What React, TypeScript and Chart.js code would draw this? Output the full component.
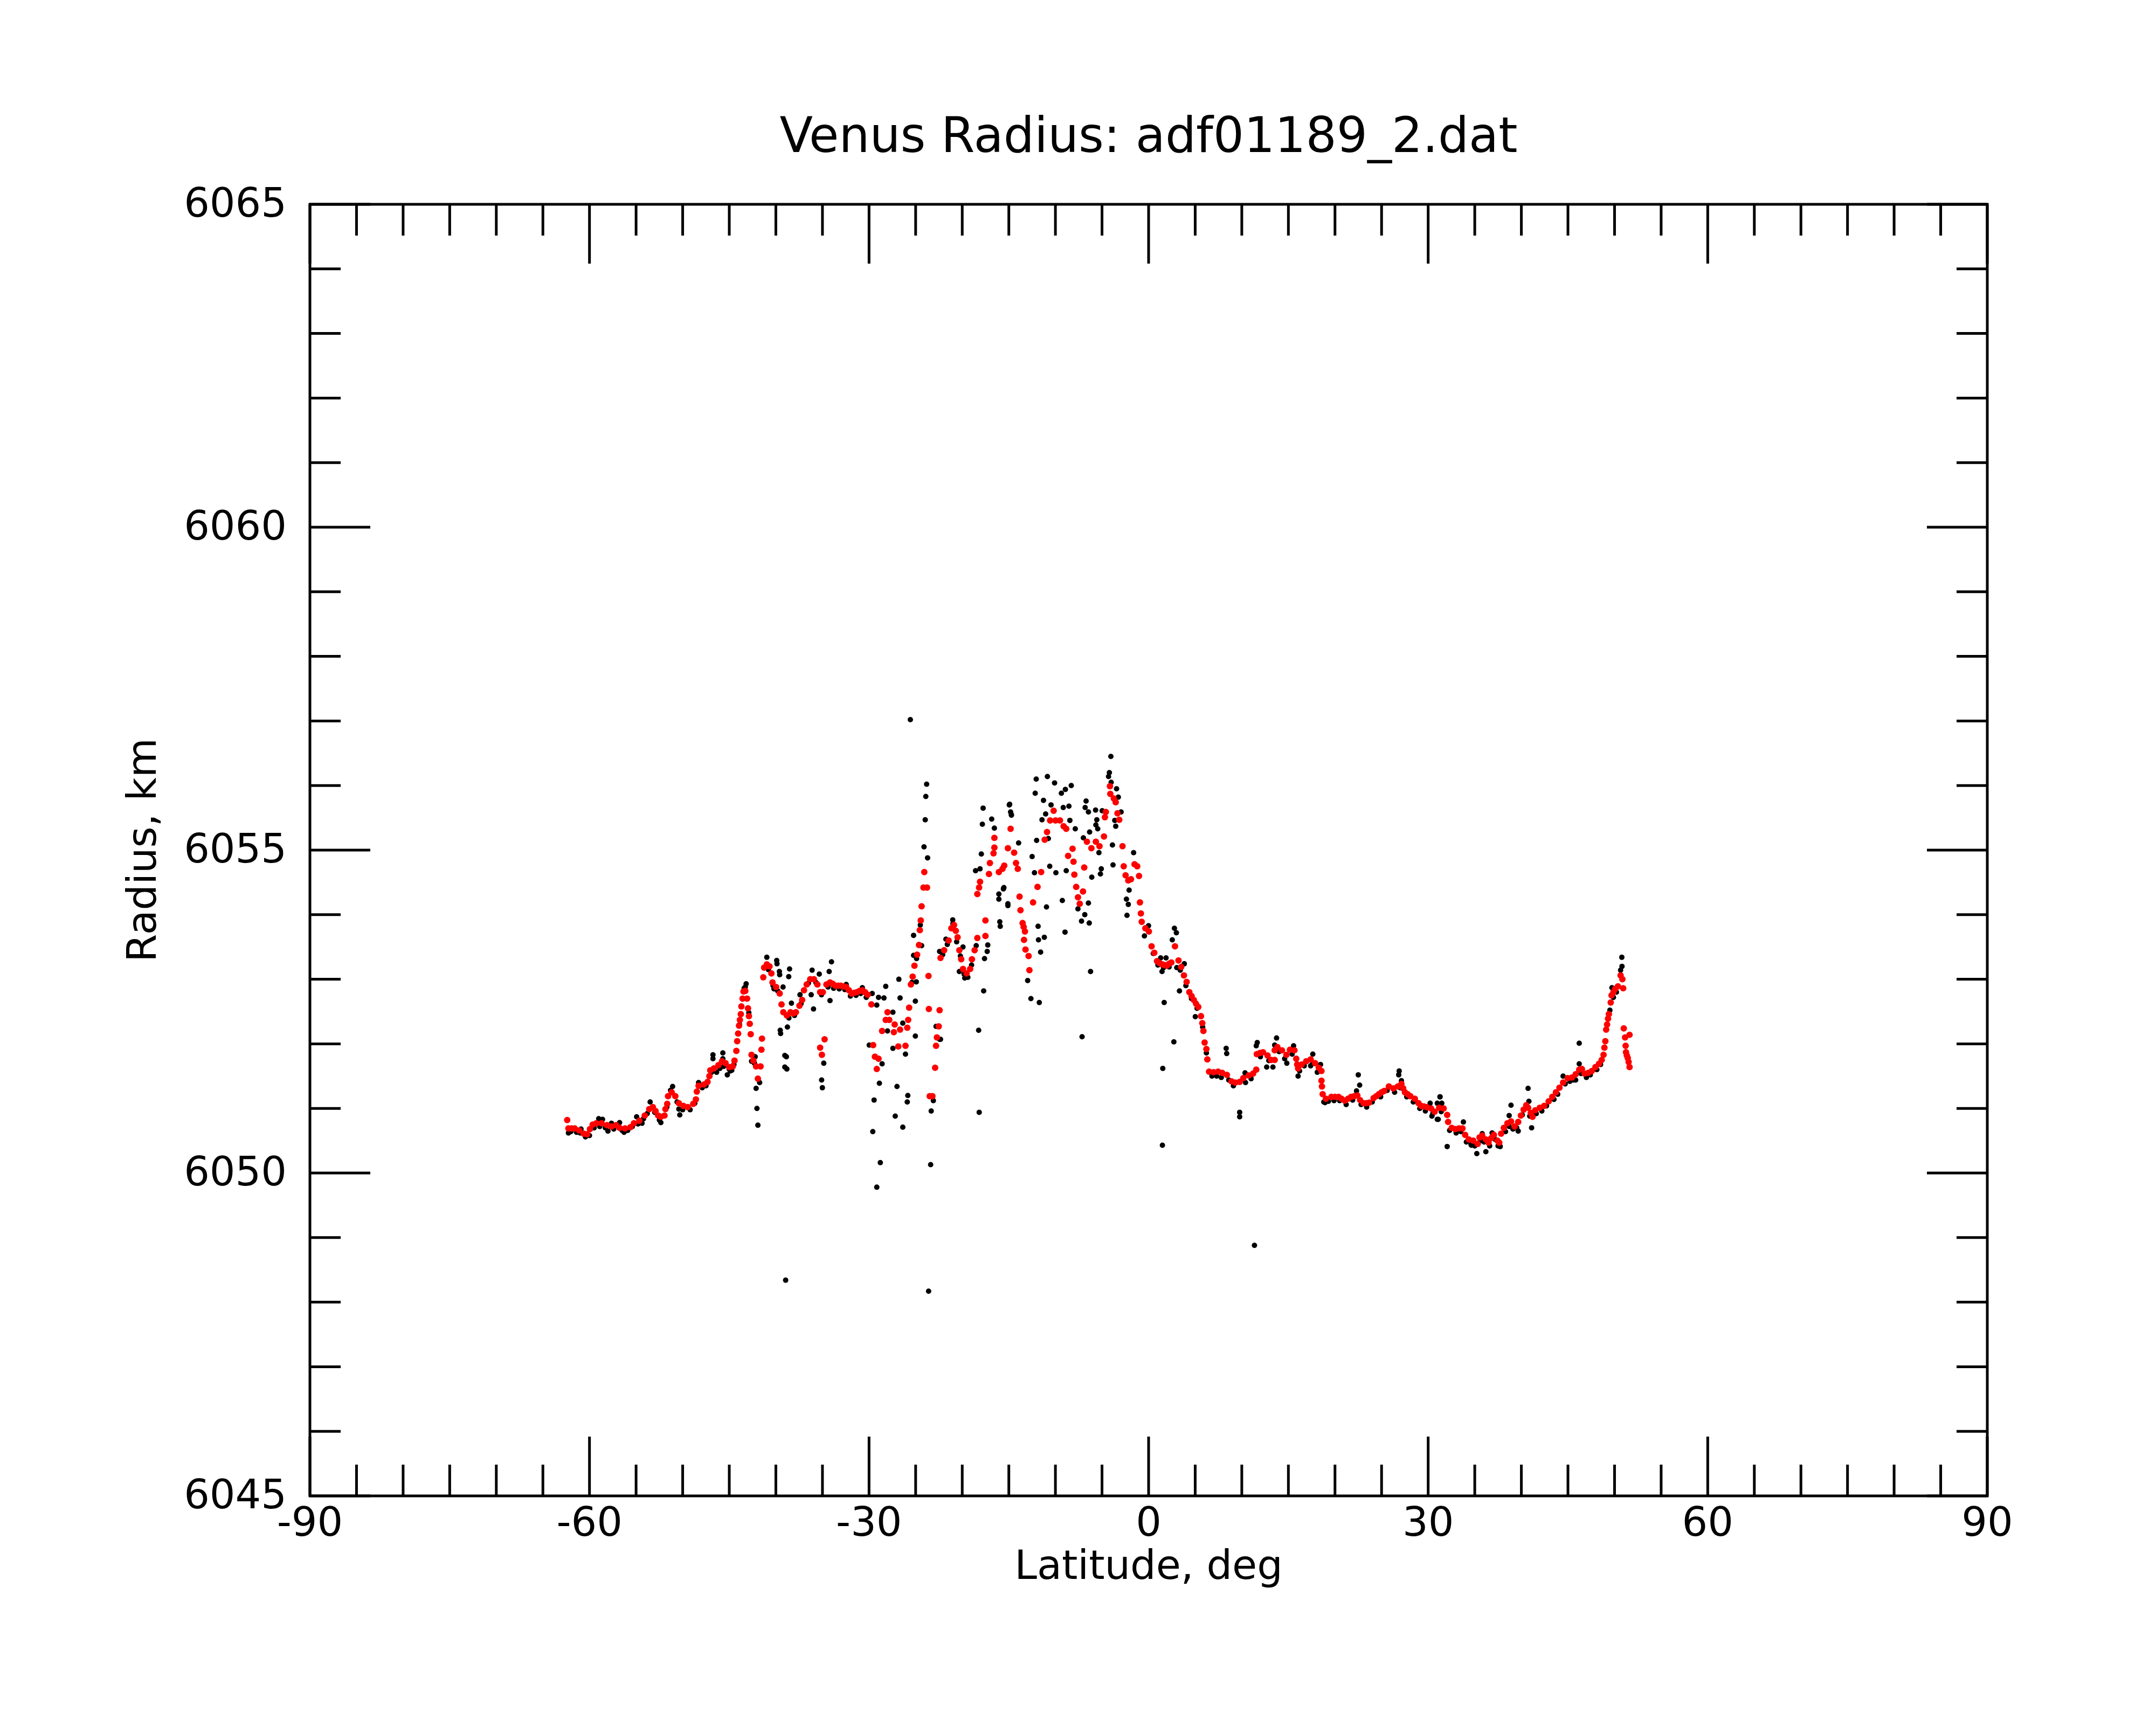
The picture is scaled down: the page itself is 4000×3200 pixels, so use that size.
import { useEffect, useRef } from "react";
import { Chart, registerables } from "chart.js";

Chart.register(...registerables);

const TITLE = "Venus Radius: adf01189_2.dat";
const X_LABEL = "Latitude, deg";
const Y_LABEL = "Radius, km";
const X_TICKS = [-90, -60, -30, 0, 30, 60, 90];
const Y_TICKS = [6045, 6050, 6055, 6060, 6065];
const X_MINOR_STEP = 5;
const Y_MINOR_STEP = 1;

// Smoothed radius (red), [latitude, radius]
const smoothed: [number, number][] = [
  [-62.39, 6050.82], [-62.26, 6050.69], [-61.92, 6050.69], [-61.59, 6050.69], [-61.1, 6050.66], [-60.62, 6050.61],
  [-60.24, 6050.6], [-59.95, 6050.68], [-59.66, 6050.75], [-59.27, 6050.77], [-58.7, 6050.77], [-58.12, 6050.74],
  [-57.64, 6050.72], [-57.15, 6050.74], [-56.77, 6050.7], [-56.19, 6050.69], [-55.61, 6050.71], [-55.23, 6050.77],
  [-54.65, 6050.81], [-54.07, 6050.89], [-53.59, 6050.99], [-53.2, 6051.02], [-52.91, 6050.96], [-52.63, 6050.89],
  [-52.34, 6050.87], [-51.95, 6050.89], [-51.85, 6050.99], [-51.66, 6051.07], [-51.57, 6051.19], [-51.18, 6051.25],
  [-50.79, 6051.19], [-50.41, 6051.08], [-49.93, 6051.04], [-49.45, 6051.02], [-48.87, 6051.07], [-48.58, 6051.14],
  [-48.48, 6051.26], [-48.29, 6051.35], [-47.71, 6051.37], [-47.33, 6051.41], [-47.13, 6051.5], [-47.04, 6051.59],
  [-46.65, 6051.62], [-46.17, 6051.67], [-45.78, 6051.73], [-45.4, 6051.7], [-45.01, 6051.64], [-44.63, 6051.65],
  [-44.44, 6051.74], [-44.24, 6051.89], [-44.15, 6052.04], [-44.05, 6052.16], [-43.95, 6052.28], [-43.86, 6052.37],
  [-43.76, 6052.46], [-43.7, 6052.58], [-43.57, 6052.7], [-43.47, 6052.81], [-43.28, 6052.82], [-43.09, 6052.7],
  [-42.99, 6052.55], [-42.89, 6052.43], [-42.8, 6052.31], [-42.7, 6052.15], [-42.61, 6051.83], [-42.41, 6051.74],
  [-42.12, 6051.65], [-41.93, 6051.46], [-41.64, 6051.65], [-41.55, 6051.91], [-41.49, 6052.08], [-41.35, 6053.03],
  [-41.26, 6053.18], [-40.97, 6053.23], [-40.68, 6053.2], [-40.48, 6053.09], [-40.36, 6052.95], [-39.97, 6052.88],
  [-39.59, 6052.78], [-39.39, 6052.61], [-39.2, 6052.49], [-38.82, 6052.44], [-38.43, 6052.49], [-38.14, 6052.47],
  [-37.85, 6052.49], [-37.47, 6052.59], [-37.18, 6052.68], [-36.98, 6052.83], [-36.69, 6052.92], [-36.31, 6053.0],
  [-35.92, 6053.0], [-35.54, 6052.92], [-35.25, 6052.8], [-34.96, 6052.8], [-34.57, 6052.92], [-34.19, 6052.95],
  [-33.9, 6052.93], [-33.61, 6052.9], [-33.32, 6052.9], [-33.03, 6052.9], [-32.74, 6052.89], [-32.45, 6052.88],
  [-32.16, 6052.83], [-31.87, 6052.78], [-31.58, 6052.79], [-31.3, 6052.8], [-31.01, 6052.82], [-30.72, 6052.83],
  [-30.43, 6052.8], [-30.14, 6052.76], [-29.75, 6052.61], [-34.77, 6052.07], [-35.25, 6051.94], [-35.06, 6051.83],
  [-29.56, 6051.98], [-29.37, 6051.8], [-28.98, 6051.77], [-29.17, 6051.61], [-28.6, 6052.2], [-28.21, 6052.37],
  [-28.02, 6052.49], [-27.83, 6052.37], [-27.34, 6052.18], [-27.25, 6052.3], [-26.86, 6051.96], [-26.67, 6052.22],
  [-26.09, 6051.97], [-25.9, 6052.25], [-25.8, 6052.37], [-25.7, 6052.56], [-25.51, 6052.92], [-25.32, 6053.04],
  [-25.13, 6053.21], [-24.84, 6053.38], [-24.64, 6053.53], [-24.55, 6053.76], [-24.45, 6053.91], [-24.36, 6054.13],
  [-24.16, 6054.42], [-24.07, 6054.66], [-23.78, 6054.42], [-23.62, 6053.05], [-23.58, 6052.54], [-23.49, 6051.19],
  [-23.2, 6051.19], [-22.91, 6051.63], [-22.81, 6051.97], [-22.72, 6052.1], [-22.52, 6052.27], [-22.43, 6052.52],
  [-22.33, 6053.33], [-21.94, 6053.45], [-21.46, 6053.6], [-21.17, 6053.79], [-20.88, 6053.84], [-20.69, 6053.75],
  [-20.5, 6053.65], [-20.31, 6053.45], [-20.11, 6053.31], [-19.92, 6053.16], [-19.53, 6053.09], [-19.15, 6053.16],
  [-18.96, 6053.31], [-18.67, 6053.45], [-18.38, 6053.64], [-17.51, 6053.67], [-17.51, 6053.91], [-18.38, 6054.32],
  [-18.19, 6054.42], [-18.09, 6054.51], [-17.13, 6054.63], [-17.03, 6054.8], [-16.64, 6054.95], [-16.55, 6055.04],
  [-16.55, 6055.19], [-16.07, 6054.66], [-15.68, 6054.71], [-15.49, 6054.76], [-15.1, 6055.03], [-14.81, 6055.33],
  [-14.43, 6054.96], [-14.23, 6054.8], [-14.04, 6054.71], [-13.85, 6054.28], [-13.75, 6054.07], [-13.52, 6053.87],
  [-13.41, 6053.81], [-13.27, 6053.74], [-13.37, 6053.61], [-13.21, 6053.46], [-12.88, 6053.36], [-12.79, 6053.14],
  [-12.4, 6054.19], [-11.92, 6054.43], [-11.53, 6054.66], [-11.15, 6055.16], [-10.9, 6055.28], [-10.57, 6055.46],
  [-10.19, 6055.61], [-9.99, 6055.46], [-9.51, 6055.46], [-9.12, 6055.37], [-8.84, 6055.33], [-8.64, 6054.91],
  [-8.16, 6055.02], [-8.06, 6054.82], [-7.97, 6054.62], [-7.77, 6054.43], [-7.58, 6054.27], [-7.39, 6054.17],
  [-7.04, 6054.36], [-6.91, 6054.73], [-6.62, 6055.13], [-6.14, 6055.03], [-5.66, 6055.13], [-5.27, 6055.06],
  [-4.79, 6055.21], [-4.69, 6055.51], [-4.59, 6055.59], [-4.15, 6055.99], [-4.11, 6055.87], [-3.73, 6055.8],
  [-3.53, 6055.74], [-3.34, 6055.57], [-3.15, 6055.47], [-2.8, 6055.06], [-2.67, 6054.75], [-2.47, 6054.61],
  [-2.18, 6054.53], [-1.89, 6054.55], [-1.51, 6054.78], [-1.22, 6054.75], [-1.03, 6054.6], [-0.93, 6054.19],
  [-0.83, 6054.02], [-0.74, 6053.89], [-0.35, 6053.79], [0.03, 6053.74], [0.32, 6053.51], [0.61, 6053.41],
  [0.9, 6053.28], [1.19, 6053.25], [1.48, 6053.23], [1.72, 6053.22], [1.96, 6053.21], [2.2, 6053.24],
  [2.44, 6053.26], [2.83, 6053.51], [3.21, 6053.29], [3.5, 6053.19], [3.79, 6053.06], [4.08, 6052.96],
  [4.37, 6052.8], [4.61, 6052.74], [4.85, 6052.68], [5.09, 6052.62], [5.33, 6052.57], [5.62, 6052.43],
  [5.76, 6052.32], [5.88, 6052.2], [6.01, 6052.02], [6.2, 6051.92], [6.3, 6051.76], [6.49, 6051.57],
  [6.97, 6051.56], [7.46, 6051.57], [7.9, 6051.55], [8.4, 6051.52], [8.9, 6051.42], [9.3, 6051.4],
  [9.77, 6051.41], [10.16, 6051.47], [10.74, 6051.51], [11.22, 6051.54], [11.55, 6051.6], [11.61, 6051.84],
  [11.95, 6051.86], [12.28, 6051.87], [12.76, 6051.82], [13.15, 6051.75], [13.53, 6051.75], [13.53, 6051.9],
  [13.82, 6051.95], [14.31, 6051.9], [14.79, 6051.83], [15.17, 6051.91], [15.65, 6051.9], [15.84, 6051.77],
  [15.94, 6051.68], [16.04, 6051.62], [16.43, 6051.68], [16.91, 6051.73], [17.39, 6051.76], [17.87, 6051.7],
  [18.26, 6051.63], [18.55, 6051.58], [18.55, 6051.43], [18.6, 6051.34], [18.68, 6051.22], [19.03, 6051.15],
  [19.61, 6051.18], [20.0, 6051.18], [20.38, 6051.18], [20.7, 6051.15], [21.05, 6051.12], [21.4, 6051.15],
  [21.73, 6051.18], [22.05, 6051.19], [22.4, 6051.2], [22.69, 6051.13], [23.08, 6051.08], [23.37, 6051.08],
  [23.66, 6051.09], [24.14, 6051.16], [24.43, 6051.19], [24.72, 6051.22], [25.0, 6051.25], [25.29, 6051.27],
  [25.78, 6051.34], [26.26, 6051.31], [26.74, 6051.34], [27.13, 6051.38], [27.32, 6051.31], [27.51, 6051.25],
  [27.8, 6051.22], [28.09, 6051.19], [28.57, 6051.15], [28.96, 6051.08], [29.25, 6051.04], [29.54, 6051.03],
  [29.83, 6051.02], [30.31, 6051.0], [30.69, 6050.95], [31.18, 6051.01], [31.66, 6051.0], [32.04, 6050.9],
  [32.14, 6050.79], [32.52, 6050.7], [32.91, 6050.68], [33.3, 6050.69], [33.68, 6050.69], [33.97, 6050.59],
  [34.36, 6050.52], [34.84, 6050.5], [35.32, 6050.45], [35.51, 6050.55], [35.8, 6050.58], [36.19, 6050.52],
  [36.48, 6050.47], [36.77, 6050.54], [37.05, 6050.59], [37.44, 6050.5], [37.63, 6050.47], [37.83, 6050.61],
  [38.12, 6050.7], [38.5, 6050.77], [38.89, 6050.8], [39.27, 6050.72], [39.66, 6050.79], [39.95, 6050.89],
  [40.24, 6050.98], [40.53, 6051.05], [40.72, 6051.01], [41.01, 6050.93], [41.2, 6050.87], [41.49, 6050.97],
  [41.97, 6051.01], [42.45, 6051.04], [42.93, 6051.11], [43.32, 6051.18], [43.71, 6051.25], [44.09, 6051.32],
  [44.48, 6051.4], [44.96, 6051.47], [45.44, 6051.48], [45.83, 6051.53], [46.21, 6051.6], [46.5, 6051.61],
  [46.79, 6051.54], [47.18, 6051.55], [47.56, 6051.58], [47.95, 6051.64], [48.33, 6051.69], [48.62, 6051.75],
  [48.82, 6051.83], [48.91, 6051.94], [49.01, 6052.04], [49.1, 6052.22], [49.2, 6052.3], [49.3, 6052.39],
  [49.39, 6052.46], [49.59, 6052.64], [49.68, 6052.75], [49.88, 6052.8], [50.07, 6052.85], [50.36, 6052.89],
  [50.65, 6053.06], [50.84, 6053.0], [50.93, 6052.86], [50.99, 6052.24], [51.61, 6052.14], [51.13, 6052.1],
  [51.19, 6051.97], [51.23, 6051.87], [51.32, 6051.82], [51.42, 6051.78], [51.51, 6051.72], [51.61, 6051.64],
];

// Raw radius samples (black), [latitude, radius]
const raw: [number, number][] = [
  [-40.97, 6053.34], [-39.91, 6053.29], [-39.62, 6053.12], [-40.2, 6052.85], [-39.23, 6052.88], [-39.53, 6052.21],
  [-39.04, 6051.82], [-39.04, 6051.64], [-42.12, 6051.31], [-42.03, 6051.0], [-41.93, 6050.74], [-41.74, 6051.4],
  [-42.22, 6051.8], [-42.61, 6051.73], [-43.19, 6052.93], [-43.28, 6052.88], [-45.21, 6051.52], [-45.69, 6051.86],
  [-45.69, 6051.77], [-46.75, 6051.83], [-46.75, 6051.77], [-46.36, 6051.56], [-48.29, 6051.4], [-51.08, 6051.34],
  [-50.31, 6050.9], [-50.41, 6050.99], [-52.34, 6050.78], [-53.49, 6051.1], [-54.36, 6050.77], [-54.94, 6050.87],
  [-56.77, 6050.78], [-56.29, 6050.63], [-57.64, 6050.77], [-58.02, 6050.65], [-59.01, 6050.84], [-58.6, 6050.83],
  [-60.43, 6050.56], [-60.91, 6050.68], [-62.26, 6050.62], [-61.39, 6050.63], [-44.73, 6051.59], [-45.01, 6051.61],
  [-38.95, 6048.34],
  [-62.0, 6050.64], [-61.0, 6050.62], [-60.0, 6050.58], [-59.5, 6050.7], [-58.9, 6050.72], [-58.3, 6050.7],
  [-57.4, 6050.68], [-56.5, 6050.66], [-55.9, 6050.66], [-55.4, 6050.72], [-54.8, 6050.76], [-54.2, 6050.84],
  [-53.8, 6050.92], [-53.0, 6050.94], [-52.5, 6050.82], [-51.7, 6051.02], [-51.3, 6051.28], [-50.6, 6051.1],
  [-50.0, 6050.98], [-49.2, 6050.98], [-48.7, 6051.08], [-47.9, 6051.32], [-47.5, 6051.35], [-46.9, 6051.56],
  [-46.0, 6051.62], [-45.6, 6051.65], [-44.9, 6051.58], [-44.5, 6051.68], [-43.9, 6052.3], [-43.4, 6052.86],
  [-42.9, 6052.48], [-42.3, 6051.7], [-40.8, 6053.15], [-40.3, 6052.9], [-39.8, 6052.82],
  [-25.57, 6057.02], [-23.82, 6056.02], [-23.91, 6055.83], [-23.97, 6055.47], [-24.1, 6055.05], [-23.72, 6054.88],
  [-17.76, 6055.65], [-17.84, 6055.4], [-16.84, 6055.48], [-16.55, 6055.34], [-14.95, 6055.7], [-14.73, 6055.55],
  [-17.95, 6054.94], [-18.09, 6054.71], [-18.57, 6054.68], [-16.07, 6054.32], [-15.58, 6054.4], [-16.07, 6054.24],
  [-15.1, 6054.14], [-15.97, 6053.89], [-15.92, 6053.82], [-17.26, 6053.53], [-17.32, 6053.43], [-17.61, 6053.32],
  [-17.7, 6052.82], [-18.24, 6052.21], [-18.18, 6050.94], [-21.02, 6053.92], [-21.75, 6053.62], [-22.43, 6053.43],
  [-19.92, 6053.5], [-20.31, 6053.12], [-19.73, 6053.02], [-25.22, 6053.68], [-25.22, 6053.37], [-24.36, 6053.52],
  [-24.93, 6052.96], [-25.03, 6052.66], [-26.8, 6053.0], [-28.21, 6052.89], [-26.67, 6052.71], [-28.98, 6052.72],
  [-28.4, 6052.71], [-29.66, 6052.78], [-29.17, 6052.6], [-27.44, 6052.49], [-26.38, 6052.32], [-25.03, 6052.12],
  [-22.81, 6052.27], [-22.43, 6052.07], [-26.09, 6051.84], [-27.44, 6051.93], [-28.02, 6052.2], [-29.98, 6051.98],
  [-28.6, 6051.69], [-28.89, 6051.39], [-29.46, 6051.13], [-29.6, 6050.64], [-28.79, 6050.16], [-29.17, 6049.78],
  [-27.0, 6051.34], [-25.84, 6051.2], [-25.9, 6051.1], [-27.19, 6050.88], [-26.38, 6050.71], [-23.33, 6050.96],
  [-23.39, 6050.13], [-23.1, 6051.12], [-22.33, 6052.07], [-39.88, 6053.24], [-39.59, 6053.07], [-38.53, 6053.16],
  [-38.62, 6053.04], [-39.49, 6052.16], [-38.87, 6051.8], [-38.82, 6051.61], [-38.76, 6052.26], [-38.33, 6052.63],
  [-35.96, 6052.54], [-36.21, 6052.76], [-36.11, 6053.14], [-35.34, 6053.08], [-34.03, 6053.27], [-34.28, 6053.12],
  [-34.19, 6052.67], [-34.86, 6051.7], [-35.09, 6051.44], [-35.01, 6051.32], [-32.45, 6052.92], [-30.72, 6052.87],
  [-37.41, 6052.76], [-23.61, 6048.17],
  [-38.6, 6052.4], [-38.0, 6052.44], [-37.3, 6052.62], [-36.5, 6052.94], [-35.7, 6052.95], [-35.1, 6052.76],
  [-34.4, 6052.88], [-33.8, 6052.86], [-33.2, 6052.85], [-32.6, 6052.84], [-32.0, 6052.74], [-31.4, 6052.75],
  [-30.9, 6052.78], [-30.3, 6052.72], [-22.1, 6053.38], [-21.6, 6053.54], [-21.0, 6053.86], [-20.6, 6053.58],
  [-20.2, 6053.36], [-19.8, 6053.08], [-19.4, 6053.03], [-19.0, 6053.22], [-18.5, 6053.52], [-25.4, 6052.95],
  [-24.9, 6053.32], [-24.5, 6053.84],
  [-4.05, 6056.45], [-4.21, 6056.2], [-4.3, 6056.14], [-4.02, 6056.05], [-3.44, 6055.95], [-3.25, 6055.82],
  [-2.95, 6055.59], [-3.63, 6055.46], [-3.53, 6055.37], [-12.06, 6056.1], [-10.86, 6056.14], [-10.09, 6056.04],
  [-8.93, 6055.94], [-8.3, 6056.0], [-9.36, 6055.88], [-12.17, 6055.88], [-11.28, 6055.77], [-10.47, 6055.7],
  [-9.16, 6055.66], [-8.55, 6055.68], [-11.05, 6055.56], [-11.44, 6055.47], [-8.45, 6055.46], [-7.87, 6055.33],
  [-6.71, 6055.76], [-6.81, 6055.66], [-6.46, 6055.59], [-5.69, 6055.62], [-4.98, 6055.61], [-5.56, 6055.47],
  [-5.66, 6055.39], [-5.46, 6055.33], [-6.33, 6055.28], [-7.0, 6055.19], [-5.33, 6054.96], [-3.88, 6055.08],
  [-3.82, 6054.77], [-5.08, 6054.71], [-5.17, 6054.63], [-6.1, 6054.58], [-8.84, 6054.68], [-9.95, 6054.65],
  [-10.61, 6054.75], [-12.5, 6054.9], [-12.25, 6054.65], [-13.95, 6055.11], [-14.91, 6055.71], [-14.81, 6055.59],
  [-14.72, 6055.54], [-10.76, 6055.18], [-12.02, 6055.15], [-15.53, 6054.42], [-15.1, 6054.17], [-10.96, 6054.12],
  [-9.26, 6054.22], [-11.86, 6053.82], [-11.82, 6053.61], [-11.19, 6053.65], [-11.59, 6053.42], [-8.97, 6053.73],
  [-7.58, 6054.09], [-6.46, 6054.18], [-6.85, 6054.0], [-7.2, 6053.9], [-6.37, 6053.87], [-6.23, 6053.12],
  [-7.14, 6052.11], [-12.98, 6052.98], [-12.63, 6052.7], [-11.73, 6052.64], [-2.09, 6054.38], [-2.38, 6054.24],
  [-2.18, 6054.16], [-2.32, 6053.99], [-1.61, 6054.96], [-0.01, 6053.83], [-0.45, 6053.67], [2.77, 6053.79],
  [2.98, 6053.72], [2.54, 6053.61], [1.29, 6053.33], [1.87, 6053.33], [1.44, 6053.12], [3.02, 6053.18],
  [3.83, 6053.24], [3.31, 6052.82], [1.67, 6052.64], [5.01, 6052.42], [2.71, 6052.03], [8.32, 6051.93],
  [8.38, 6051.85], [1.52, 6051.62], [10.35, 6051.55], [1.48, 6050.43], [11.36, 6048.88],
  [0.5, 6053.4], [1.0, 6053.22], [1.6, 6053.18], [2.2, 6053.19], [3.4, 6053.14], [4.0, 6052.9],
  [4.6, 6052.7], [5.2, 6052.55], [5.8, 6052.26], [6.2, 6051.86], [6.8, 6051.5], [7.3, 6051.5],
  [7.8, 6051.48], [8.6, 6051.44], [9.1, 6051.35],
  [11.66, 6052.02], [11.55, 6051.97], [13.73, 6052.09], [13.53, 6051.98], [15.56, 6051.97], [12.67, 6051.64],
  [13.34, 6051.64], [14.83, 6051.7], [17.62, 6051.84], [17.39, 6051.66], [18.45, 6051.68], [16.04, 6051.5],
  [9.77, 6050.94], [9.77, 6050.87], [22.5, 6051.52], [22.65, 6051.36], [22.31, 6051.27], [26.89, 6051.58],
  [26.84, 6051.52], [27.13, 6051.43], [18.93, 6051.09], [31.27, 6051.18], [30.98, 6051.08], [30.21, 6051.08],
  [30.4, 6050.88], [31.08, 6050.83], [31.46, 6051.08],
  [10.4, 6051.4], [11.0, 6051.46], [12.0, 6051.8], [12.9, 6051.74], [14.0, 6051.88], [14.6, 6051.77],
  [15.4, 6051.84], [16.2, 6051.58], [16.7, 6051.66], [17.6, 6051.7], [18.1, 6051.56], [18.8, 6051.1],
  [19.3, 6051.11], [19.9, 6051.12], [20.5, 6051.12], [21.2, 6051.06], [21.9, 6051.13], [22.8, 6051.06],
  [23.4, 6051.02], [24.0, 6051.1], [24.9, 6051.18], [25.6, 6051.28], [26.4, 6051.25], [27.0, 6051.32],
  [27.7, 6051.18], [28.4, 6051.1], [29.1, 6051.0], [29.7, 6050.96], [30.5, 6050.92],
  [50.78, 6053.34], [50.8, 6053.2], [50.65, 6053.14], [49.72, 6052.87], [49.88, 6052.72], [46.21, 6052.01],
  [46.21, 6051.69], [45.83, 6051.44], [44.48, 6051.5], [46.98, 6051.48], [40.72, 6051.31], [40.81, 6051.11],
  [41.1, 6050.7], [38.89, 6051.05], [38.69, 6050.89], [39.66, 6050.65], [33.78, 6050.79], [31.27, 6051.18],
  [30.98, 6050.83], [32.04, 6050.41], [35.22, 6050.3], [36.19, 6050.33], [35.8, 6050.61], [36.86, 6050.62],
  [37.73, 6050.41], [34.64, 6050.43],
  [31.4, 6050.95], [32.3, 6050.66], [33.0, 6050.62], [33.5, 6050.64], [34.1, 6050.48], [34.6, 6050.44],
  [35.0, 6050.42], [35.6, 6050.5], [36.0, 6050.48], [36.6, 6050.42], [37.2, 6050.52], [37.5, 6050.42],
  [38.3, 6050.64], [38.7, 6050.72], [39.1, 6050.68], [39.5, 6050.7], [40.1, 6050.9], [40.9, 6050.88],
  [41.6, 6050.92], [42.2, 6050.96], [42.7, 6051.04], [43.5, 6051.14], [43.9, 6051.22], [44.7, 6051.38],
  [45.2, 6051.42], [45.6, 6051.44], [46.4, 6051.54], [47.0, 6051.5], [47.4, 6051.52], [48.1, 6051.6],
  [48.5, 6051.68], [49.5, 6052.52], [50.2, 6052.8],
];

const FONT = "'DejaVu Sans'";

const frameAndTicks = {
  id: "frameAndTicks",
  afterDatasetsDraw(chart: any) {
    const { ctx, chartArea, scales } = chart;
    const { left, right, top, bottom } = chartArea;
    const xs = scales.x;
    const ys = scales.y;
    ctx.save();
    ctx.strokeStyle = "#000";
    ctx.lineWidth = 5;
    ctx.lineCap = "butt";
    ctx.beginPath();
    ctx.rect(left, top, right - left, bottom - top);
    ctx.stroke();
    ctx.beginPath();
    const xMin = X_TICKS[0];
    const xMax = X_TICKS[X_TICKS.length - 1];
    for (let v = xMin; v <= xMax; v += X_MINOR_STEP) {
      const px = xs.getPixelForValue(v);
      const len = X_TICKS.includes(v) ? 110 : 58;
      ctx.moveTo(px, bottom);
      ctx.lineTo(px, bottom - len);
      ctx.moveTo(px, top);
      ctx.lineTo(px, top + len);
    }
    const yMin = Y_TICKS[0];
    const yMax = Y_TICKS[Y_TICKS.length - 1];
    for (let v = yMin; v <= yMax; v += Y_MINOR_STEP) {
      const py = ys.getPixelForValue(v);
      const len = Y_TICKS.includes(v) ? 112 : 57;
      ctx.moveTo(left, py);
      ctx.lineTo(left + len, py);
      ctx.moveTo(right, py);
      ctx.lineTo(right - len, py);
    }
    ctx.stroke();
    ctx.restore();
  },
};

export default function App() {
  const ref = useRef<HTMLCanvasElement | null>(null);

  useEffect(() => {
    document.body.style.margin = "0";
    const canvas = ref.current;
    if (!canvas) return;
    const chart = new Chart(canvas, {
      type: "scatter",
      data: {
        datasets: [
          {
            label: "smoothed",
            data: smoothed.map(([x, y]) => ({ x, y })),
            backgroundColor: "#ff0000",
            borderColor: "#ff0000",
            pointRadius: 6,
            pointBorderWidth: 0,
            pointHoverRadius: 6,
            order: 0,
          },
          {
            label: "raw",
            data: raw.map(([x, y]) => ({ x, y })),
            backgroundColor: "#000000",
            borderColor: "#000000",
            pointRadius: 5,
            pointBorderWidth: 0,
            pointHoverRadius: 5,
            order: 1,
          },
        ],
      },
      plugins: [frameAndTicks],
      options: {
        animation: false,
        responsive: false,
        devicePixelRatio: 1,
        events: [],
        layout: { padding: { left: 0, right: 313, top: 0, bottom: 0 } },
        plugins: {
          legend: { display: false },
          tooltip: { enabled: false },
          title: {
            display: true,
            text: TITLE,
            fullSize: false,
            color: "#000",
            font: { family: FONT, size: 90, weight: "normal", lineHeight: 1.2 },
            padding: { top: 205, bottom: 66 },
          },
        },
        scales: {
          x: {
            type: "linear",
            min: X_TICKS[0],
            max: X_TICKS[X_TICKS.length - 1],
            afterBuildTicks: (s: any) => {
              s.ticks = X_TICKS.map((v) => ({ value: v }));
            },
            afterFit: (s: any) => {
              s.height = 425;
            },
            grid: { display: false, drawTicks: false },
            border: { display: false },
            ticks: {
              color: "#000",
              font: { family: FONT, size: 75, lineHeight: 1.2 },
              padding: 10,
              maxRotation: 0,
              autoSkip: false,
              callback: (v: any) => String(v),
            },
            title: {
              display: true,
              text: X_LABEL,
              color: "#000",
              font: { family: FONT, size: 75, lineHeight: 1.2 },
              padding: { top: 0, bottom: 245 },
            },
          },
          y: {
            type: "linear",
            min: Y_TICKS[0],
            max: Y_TICKS[Y_TICKS.length - 1],
            afterBuildTicks: (s: any) => {
              s.ticks = Y_TICKS.map((v) => ({ value: v }));
            },
            afterFit: (s: any) => {
              s.width = 575;
            },
            grid: { display: false, drawTicks: false },
            border: { display: false },
            ticks: {
              color: "#000",
              font: { family: FONT, size: 75, lineHeight: 1.2 },
              padding: 43,
              labelOffset: 4,
              autoSkip: false,
              callback: (v: any) => String(v),
            },
            title: {
              display: true,
              text: Y_LABEL,
              color: "#000",
              font: { family: FONT, size: 75, lineHeight: 1.2 },
              padding: { top: 225, bottom: 0 },
            },
          },
        },
      },
    } as any);
    return () => chart.destroy();
  }, []);

  return (
    <div style={{ width: 4000, height: 3200, background: "#fff" }}>
      <canvas ref={ref} width={4000} height={3200} style={{ display: "block", width: 4000, height: 3200 }} />
    </div>
  );
}
